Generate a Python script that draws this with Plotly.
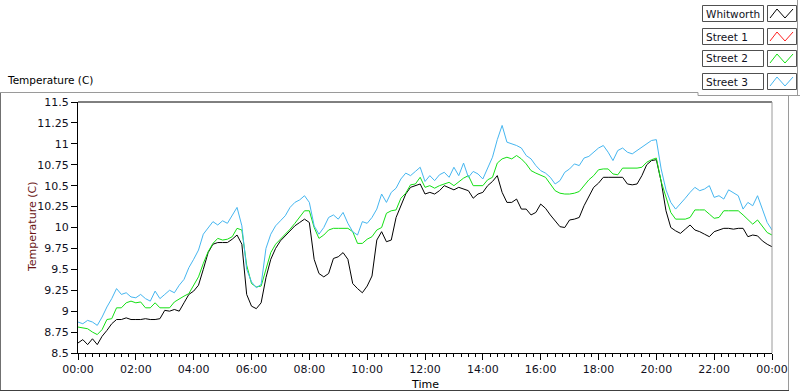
import plotly.graph_objects as go

# ---- data (10-minute samples, 00:00 .. 24:00) ----
sample_minutes = list(range(0, 1441, 10))

whitworth = [
    8.62, 8.66, 8.60, 8.67, 8.60, 8.70, 8.77, 8.85, 8.90, 8.90, 8.92, 8.90,
    8.90, 8.90, 8.91, 8.90, 8.90, 8.91, 9.01, 9.00, 9.02, 9.00, 9.10, 9.20,
    9.24, 9.31, 9.50, 9.70, 9.80, 9.82, 9.82, 9.82, 9.86, 9.91, 9.80, 9.20,
    9.06, 9.03, 9.10, 9.40, 9.62, 9.75, 9.84, 9.90, 9.96, 10.02, 10.06, 10.10,
    10.06, 9.62, 9.45, 9.41, 9.45, 9.63, 9.65, 9.70, 9.62, 9.33, 9.27, 9.22,
    9.30, 9.42, 9.85, 9.95, 9.83, 9.85, 10.12, 10.25, 10.40, 10.48, 10.50, 10.52,
    10.40, 10.42, 10.40, 10.44, 10.50, 10.47, 10.45, 10.48, 10.46, 10.44, 10.35, 10.40,
    10.42, 10.50, 10.55, 10.62, 10.42, 10.30, 10.30, 10.34, 10.22, 10.22, 10.15, 10.18,
    10.28, 10.23, 10.15, 10.08, 10.01, 10.00, 10.09, 10.10, 10.12, 10.26, 10.38, 10.48,
    10.53, 10.60, 10.60, 10.60, 10.60, 10.60, 10.52, 10.51, 10.52, 10.62, 10.75, 10.80,
    10.81, 10.55, 10.20, 10.00, 9.96, 9.93, 9.98, 10.03, 9.97, 9.95, 9.92, 9.89,
    9.95, 9.97, 9.99, 9.99, 9.98, 9.99, 9.99, 9.89, 9.91, 9.90, 9.84, 9.80,
    9.77,
]

street1 = []  # no samples drawn in the reference

street2 = [
    8.81, 8.80, 8.79, 8.75, 8.72, 8.78, 8.90, 8.91, 9.04, 9.04, 9.10, 9.12,
    9.10, 9.11, 9.04, 9.04, 9.10, 9.04, 9.04, 9.04, 9.11, 9.15, 9.18, 9.21,
    9.31, 9.41, 9.57, 9.71, 9.81, 9.87, 9.85, 9.86, 9.89, 9.99, 9.97, 9.55,
    9.33, 9.29, 9.30, 9.50, 9.70, 9.80, 9.86, 9.91, 9.98, 10.05, 10.12, 10.20,
    10.20, 10.00, 9.87, 9.91, 9.97, 9.99, 9.99, 9.99, 9.99, 9.95, 9.81, 9.81,
    9.86, 9.89, 9.97, 10.00, 10.17, 10.20, 10.21, 10.35, 10.41, 10.51, 10.52, 10.60,
    10.48, 10.50, 10.47, 10.50, 10.52, 10.54, 10.50, 10.55, 10.59, 10.62, 10.50, 10.50,
    10.50, 10.57, 10.60, 10.77, 10.82, 10.84, 10.82, 10.86, 10.82, 10.76, 10.68, 10.65,
    10.62, 10.60, 10.52, 10.44, 10.41, 10.40, 10.40, 10.41, 10.43, 10.50, 10.57, 10.62,
    10.69, 10.70, 10.70, 10.64, 10.63, 10.71, 10.71, 10.71, 10.71, 10.72, 10.78, 10.81,
    10.83, 10.55, 10.35, 10.18, 10.10, 10.10, 10.10, 10.12, 10.21, 10.21, 10.21, 10.16,
    10.11, 10.12, 10.20, 10.20, 10.20, 10.20, 10.15, 10.09, 10.04, 10.09, 10.02, 9.94,
    9.91,
]

street3 = [
    8.87, 8.85, 8.89, 8.87, 8.83, 8.93, 9.05, 9.15, 9.27, 9.20, 9.22, 9.17,
    9.16, 9.20, 9.15, 9.12, 9.24, 9.15, 9.20, 9.25, 9.22, 9.31, 9.38, 9.52,
    9.62, 9.73, 9.92, 10.00, 10.07, 10.03, 10.08, 10.05, 10.15, 10.24, 10.02, 9.50,
    9.35, 9.28, 9.32, 9.75, 9.92, 10.02, 10.08, 10.14, 10.24, 10.30, 10.33, 10.38,
    10.30, 10.02, 9.92, 10.00, 10.12, 10.15, 10.10, 10.18, 10.05, 9.95, 9.91, 10.07,
    10.05, 10.12, 10.22, 10.40, 10.30, 10.42, 10.47, 10.58, 10.65, 10.62, 10.67, 10.72,
    10.55, 10.62, 10.56, 10.63, 10.66, 10.60, 10.72, 10.62, 10.77, 10.60, 10.67, 10.64,
    10.58, 10.72, 10.84, 11.05, 11.22, 11.02, 11.00, 10.98, 10.95, 10.86, 10.82, 10.74,
    10.68, 10.65, 10.60, 10.52, 10.56, 10.66, 10.70, 10.76, 10.74, 10.83, 10.85, 10.90,
    10.95, 10.98, 10.90, 10.80, 10.92, 10.95, 10.90, 10.88, 10.92, 10.96, 11.00, 11.04,
    11.05, 10.70, 10.45, 10.30, 10.22, 10.28, 10.35, 10.42, 10.48, 10.44, 10.46, 10.50,
    10.36, 10.38, 10.34, 10.45, 10.42, 10.38, 10.22, 10.30, 10.26, 10.38, 10.22, 10.06,
    9.97,
]

series_names = ["Whitworth", "Street 1", "Street 2", "Street 3"]
series_colors = ["#000000", "#ff2020", "#14e014", "#45b6f0"]

x_tick_hours = [0, 2, 4, 6, 8, 10, 12, 14, 16, 18, 20, 22, 24]
x_tick_labels = ["00:00", "02:00", "04:00", "06:00", "08:00", "10:00", "12:00",
                 "14:00", "16:00", "18:00", "20:00", "22:00", "00:00"]
y_tick_values = [8.5, 8.75, 9, 9.25, 9.5, 9.75, 10, 10.25, 10.5, 10.75, 11, 11.25, 11.5]
y_tick_labels = ["8.5", "8.75", "9", "9.25", "9.5", "9.75", "10", "10.25", "10.5",
                 "10.75", "11", "11.25", "11.5"]

chart_title = "Temperature (C)"
y_title = "Temperature (C)"
x_title = "Time"

# ---- figure ----
W, H = 800, 392
L, R, T, B = 78, 28, 102, 39
PW, PH = W - L - R, H - T - B
FONT = "DejaVu Sans"


def px(x):
    return (x - L) / PW


def py(y):
    return (H - B - y) / PH


hours = [m / 60 for m in sample_minutes]
fig = go.Figure()
for name, color, vals in zip(series_names, series_colors,
                             [whitworth, street1, street2, street3]):
    fig.add_trace(go.Scatter(x=hours[:len(vals)], y=vals, mode="lines", name=name,
                             line=dict(color=color, width=1), showlegend=False))

fig.update_layout(
    width=W, height=H, margin=dict(l=L, r=R, t=T, b=B),
    paper_bgcolor="white", plot_bgcolor="white",
    font=dict(family=FONT, size=11, color="#111122"),
)
fig.update_xaxes(
    range=[0, 24], tickvals=x_tick_hours, ticktext=x_tick_labels,
    showgrid=False, zeroline=False, showline=True, linecolor="black", linewidth=1,
    ticks="outside", ticklen=6, tickcolor="black",
    minor=dict(dtick=0.25, ticks="outside", ticklen=3, tickcolor="black", showgrid=False),
)
fig.update_yaxes(
    range=[8.5, 11.5], tickvals=y_tick_values, ticktext=y_tick_labels,
    showgrid=False, zeroline=False, showline=True, linecolor="black", linewidth=1,
    ticks="outside", ticklen=6, tickcolor="black",
)

shapes = []
gray = "#9a9a9a"
# plot area top (black) and right (gray) edges
shapes.append(dict(type="line", xref="paper", yref="paper", x0=0, x1=1, y0=1, y1=1,
                   line=dict(color="black", width=1)))
shapes.append(dict(type="line", xref="paper", yref="paper", x0=1, x1=1, y0=0, y1=1,
                   line=dict(color=gray, width=1)))
# panel frame
for (x0, y0, x1, y1, c) in [
    (0.5, 92.5, 698, 92.5, gray), (698, 92.5, 698, 95.5, gray), (698, 95.5, 800, 95.5, gray),
    (797.5, 0, 797.5, 95.5, gray), (788.5, 95.5, 788.5, 391, gray),
    (0.5, 92.5, 0.5, 391, "#707070"), (0, 390.5, 789, 390.5, "#404040"),
]:
    shapes.append(dict(type="line", xref="paper", yref="paper",
                       x0=px(x0), y0=py(y0), x1=px(x1), y1=py(y1),
                       line=dict(color=c, width=1)))

annotations = []
# legend boxes
tops = [5, 28, 50, 73]
for name, color, top in zip(series_names, series_colors, tops):
    shapes.append(dict(type="rect", xref="paper", yref="paper",
                       x0=px(702.5), x1=px(763.5), y0=py(top + 0.5), y1=py(top + 16.5),
                       line=dict(color="#505050", width=1), fillcolor="white"))
    shapes.append(dict(type="rect", xref="paper", yref="paper",
                       x0=px(767.5), x1=px(796.5), y0=py(top + 0.5), y1=py(top + 16.5),
                       line=dict(color="#505050", width=1), fillcolor="white"))
    pts = [(770, top + 13), (777, top + 4), (785, top + 13), (793, top + 4)]
    path = "M " + " L ".join(f"{px(a)},{py(b)}" for a, b in pts)
    shapes.append(dict(type="path", xref="paper", yref="paper", path=path,
                       line=dict(color=color, width=1)))
    annotations.append(dict(xref="paper", yref="paper", x=px(704), y=py(top + 8.5),
                            xanchor="left", yanchor="middle", showarrow=False,
                            text=name, font=dict(family=FONT, size=10.5, color="#111122")))

annotations.append(dict(xref="paper", yref="paper", x=px(5), y=py(80),
                        xanchor="left", yanchor="middle", showarrow=False,
                        text=chart_title, font=dict(family=FONT, size=10.5, color="black")))
annotations.append(dict(xref="paper", yref="paper", x=px(32), y=py(227),
                        xanchor="center", yanchor="middle", showarrow=False, textangle=-90,
                        text=y_title, font=dict(family=FONT, size=11, color="#6a1414")))
annotations.append(dict(xref="paper", yref="paper", x=0.5, y=py(384),
                        xanchor="center", yanchor="middle", showarrow=False,
                        text=x_title, font=dict(family=FONT, size=11, color="black")))

fig.update_layout(shapes=shapes, annotations=annotations)
fig.write_html(
    "out.html",
    config={"displayModeBar": False},
    post_script="document.body.style.margin='0';document.body.style.overflow='hidden';",
)
